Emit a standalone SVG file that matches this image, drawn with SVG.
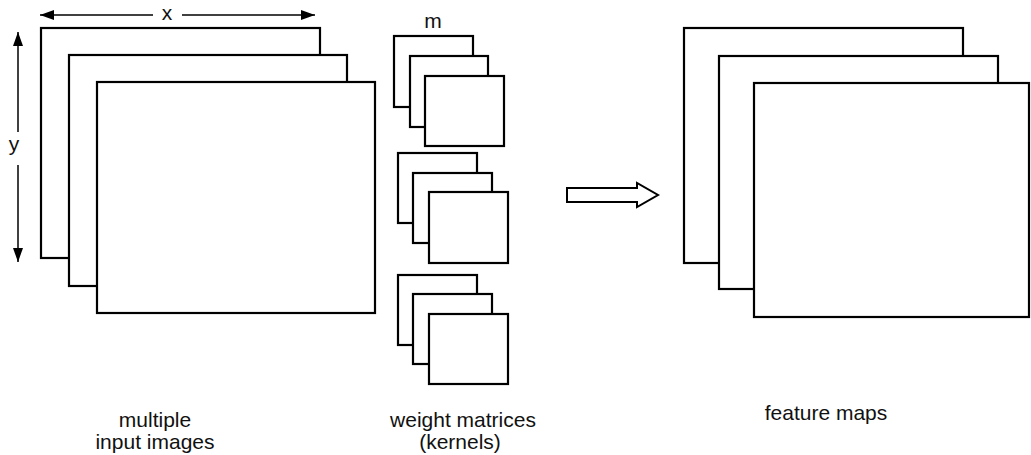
<svg xmlns="http://www.w3.org/2000/svg" width="1031" height="455" viewBox="0 0 1031 455">
<defs>
<style>
.box{fill:#fff;stroke:#000;stroke-width:2.2}
.line{stroke:#000;stroke-width:1.5;fill:none}
.lbl{font-family:"Liberation Sans",Arial,sans-serif;font-size:21px;fill:#111;text-anchor:middle}
</style>
<marker id="ah" viewBox="0 0 14 10" refX="14" refY="5" markerWidth="14" markerHeight="10" markerUnits="userSpaceOnUse" orient="auto">
<path d="M0,0 L14,5 L0,10 Z" fill="#000"/>
</marker>
</defs>
<rect width="1031" height="455" fill="#fff"/>
<g id="input-images">
<rect class="box" x="41" y="28" width="279" height="230"/>
<rect class="box" x="69" y="55" width="278" height="231"/>
<rect class="box" x="97" y="82" width="278" height="231"/>
</g>
<g id="kernels-1">
<rect class="box" x="394" y="36" width="79" height="71"/>
<rect class="box" x="410" y="56" width="78" height="71"/>
<rect class="box" x="425" y="76" width="79" height="70"/>
</g>
<g id="kernels-2">
<rect class="box" x="398" y="153" width="79" height="70"/>
<rect class="box" x="413" y="173" width="79" height="70"/>
<rect class="box" x="429" y="192" width="79" height="71"/>
</g>
<g id="kernels-3">
<rect class="box" x="398" y="275" width="79" height="70"/>
<rect class="box" x="413" y="294" width="79" height="70"/>
<rect class="box" x="429" y="314" width="79" height="70"/>
</g>
<g id="feature-maps">
<rect class="box" x="684" y="28" width="279" height="235"/>
<rect class="box" x="719" y="56" width="279" height="233"/>
<rect class="box" x="754" y="83" width="275" height="234"/>
</g>
<g id="connectors">
<line class="line" x1="153" y1="15" x2="40" y2="15" marker-end="url(#ah)"/>
<line class="line" x1="182" y1="15" x2="315" y2="15" marker-end="url(#ah)"/>
<line class="line" x1="18" y1="132" x2="18" y2="32" marker-end="url(#ah)"/>
<line class="line" x1="18" y1="165" x2="18" y2="262" marker-end="url(#ah)"/>
<path id="big-arrow" d="M567,188 L637,188 L637,183 L658,195 L637,207 L637,202 L567,202 Z" fill="#fff" stroke="#000" stroke-width="2" stroke-linejoin="miter"/>
</g>
<g id="labels">
<text class="lbl" x="167" y="20">x</text>
<text class="lbl" x="14" y="151">y</text>
<text class="lbl" x="433" y="28">m</text>
<text class="lbl" x="155" y="427">multiple</text>
<text class="lbl" x="155" y="449">input images</text>
<text class="lbl" x="463" y="427">weight matrices</text>
<text class="lbl" x="460" y="449">(kernels)</text>
<text class="lbl" x="826" y="420">feature maps</text>
</g>
</svg>
